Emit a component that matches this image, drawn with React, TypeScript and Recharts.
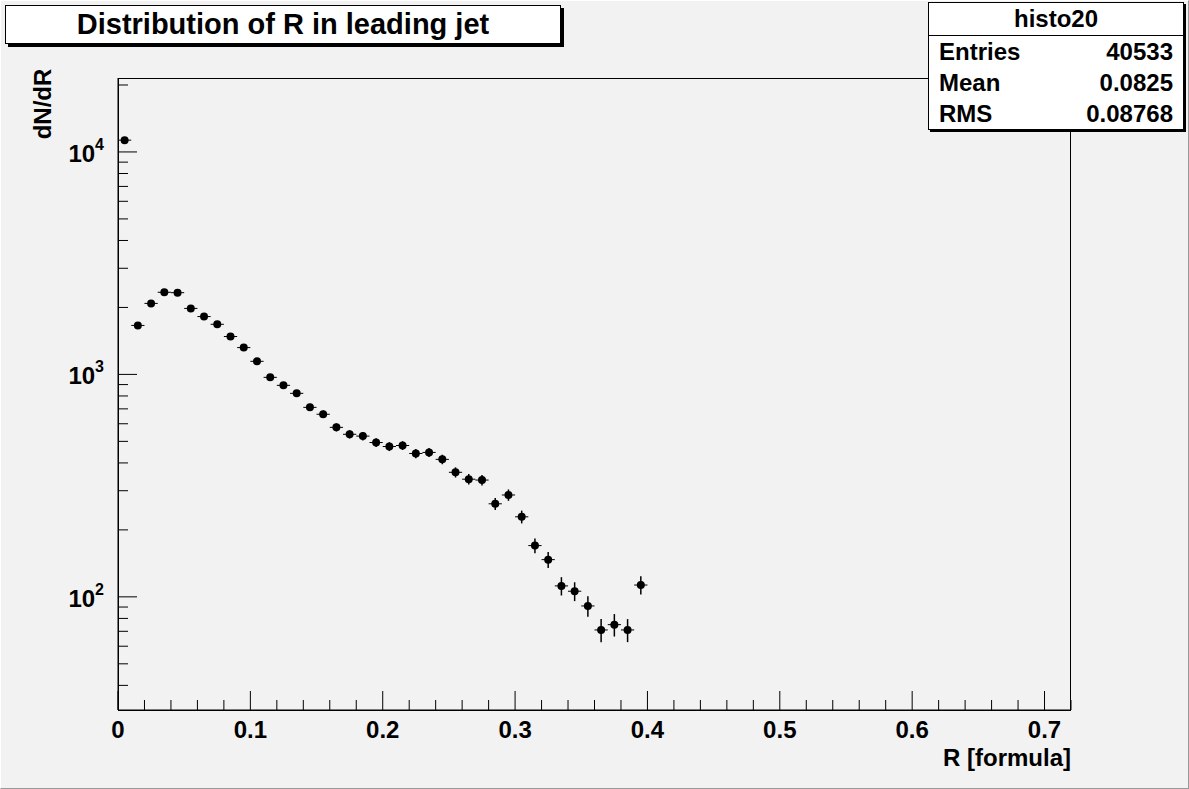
import React from 'react';
import { ScatterChart, Scatter, XAxis, YAxis, ErrorBar } from 'recharts';

const binCenters = [
  0.005, 0.015, 0.025, 0.035, 0.045, 0.055, 0.065, 0.075, 0.085, 0.095,
  0.105, 0.115, 0.125, 0.135, 0.145, 0.155, 0.165, 0.175, 0.185, 0.195,
  0.205, 0.215, 0.225, 0.235, 0.245, 0.255, 0.265, 0.275, 0.285, 0.295,
  0.305, 0.315, 0.325, 0.335, 0.345, 0.355, 0.365, 0.375, 0.385, 0.395,
];
const counts = [
  11300, 1660, 2085, 2340, 2330, 1980, 1820, 1680, 1480, 1320,
  1145, 970, 893, 822, 711, 662, 578, 538, 528, 494,
  474, 479, 441, 446, 415, 363, 338, 335, 262, 287,
  229, 170, 147, 112, 106, 91, 71, 75, 71, 113,
];
const xTicks = Array.from({ length: 37 }, (_, i) => Math.round(i * 2) / 100);
const xLabels = [0, 0.1, 0.2, 0.3, 0.4, 0.5, 0.6, 0.7];
const yTicks = [
  40, 50, 60, 70, 80, 90, 100, 200, 300, 400, 500, 600, 700, 800, 900,
  1000, 2000, 3000, 4000, 5000, 6000, 7000, 8000, 9000, 10000, 20000,
];
const stats = [
  ['Entries', '40533'],
  ['Mean', '0.0825'],
  ['RMS', '0.08768'],
];

const data = binCenters.map((x, i) => ({ x, y: counts[i], ex: 0.005, ey: Math.sqrt(counts[i]) }));

const FONT = '"Liberation Sans", Arial, sans-serif';

const XTick = (props: any) => {
  const { x, y, payload } = props;
  const v = payload.value;
  const major = xLabels.some((m) => Math.abs(m - v) < 1e-6);
  return (
    <g>
      <line x1={x} x2={x} y1={y} y2={y - (major ? 19 : 10)} stroke="#000" />
      {major && (
        <text x={x} y={y + 28} textAnchor="middle" fontFamily={FONT} fontWeight="bold" fontSize={24}>
          {v === 0 ? '0' : v.toFixed(1)}
        </text>
      )}
    </g>
  );
};

const YTick = (props: any) => {
  const { x, y, payload } = props;
  const v = payload.value;
  const exp = Math.log10(v);
  const major = Math.abs(exp - Math.round(exp)) < 1e-6;
  return (
    <g>
      <line x1={x} x2={x + (major ? 19 : 10)} y1={y} y2={y} stroke="#000" />
      {major && (
        <text x={x - 14} y={y + 10} textAnchor="end" fontFamily={FONT} fontWeight="bold" fontSize={24}>
          10<tspan dy={-12} fontSize={16}>{Math.round(exp)}</tspan>
        </text>
      )}
    </g>
  );
};

const Dot = (props: any) => <circle cx={props.cx} cy={props.cy} r={4} fill="#000" />;

export default function App() {
  return (
    <div style={{ position: 'absolute', left: 0, top: 0, width: 1189, height: 789, background: '#f2f2f2', fontFamily: FONT, overflow: 'hidden' }}>
      <div style={{ position: 'absolute', left: 0, top: 0, width: 1187, height: 787, borderTop: '1px solid #fff', borderLeft: '1px solid #fff', borderRight: '1px solid #999', borderBottom: '1px solid #999' }} />
      <ScatterChart width={1189} height={789} margin={{ top: 78, left: 0, right: 118, bottom: 0 }}>
        <XAxis type="number" dataKey="x" domain={[0, 0.72]} ticks={xTicks} interval={0} tick={<XTick />} tickLine={false} tickSize={0} tickMargin={0} height={79} axisLine={{ stroke: '#000' }} allowDataOverflow />
        <YAxis type="number" dataKey="y" scale="log" domain={[31, 21500]} ticks={yTicks} interval={0} tick={<YTick />} tickLine={false} tickSize={0} tickMargin={0} width={118} axisLine={{ stroke: '#000' }} allowDataOverflow />
        <Scatter data={data} fill="#000" shape={<Dot />} isAnimationActive={false}>
          <ErrorBar dataKey="ey" direction="y" width={0} stroke="#000" strokeWidth={1.5} />
          <ErrorBar dataKey="ex" direction="x" width={0} stroke="#000" strokeWidth={1} />
        </Scatter>
      </ScatterChart>
      <div style={{ position: 'absolute', left: 118, top: 78, width: 953, height: 633, border: '1px solid #000', boxSizing: 'border-box', pointerEvents: 'none' }} />
      <div style={{ position: 'absolute', left: 8, top: 60, width: 70, height: 70, display: 'flex', alignItems: 'flex-start', justifyContent: 'center' }}>
        <div style={{ transform: 'rotate(-90deg)', transformOrigin: 'center', fontWeight: 'bold', fontSize: 24, whiteSpace: 'nowrap', marginTop: 30 }}>dN/dR</div>
      </div>
      <div style={{ position: 'absolute', right: 118, top: 744, fontWeight: 'bold', fontSize: 24 }}>R [formula]</div>
      <div style={{ position: 'absolute', left: 5, top: 5, width: 556, height: 39, background: '#fff', border: '1px solid #000', boxShadow: '3px 3px 0 #000', boxSizing: 'border-box', fontWeight: 'bold', fontSize: 29, textAlign: 'center', lineHeight: '37px' }}>
        Distribution of R in leading jet
      </div>
      <div style={{ position: 'absolute', left: 928, top: 2, width: 256, height: 128, background: '#fff', border: '1px solid #000', boxShadow: '2px 2px 0 #000', boxSizing: 'border-box', fontWeight: 'bold', fontSize: 24 }}>
        <div style={{ height: 32, borderBottom: '1px solid #000', textAlign: 'center', lineHeight: '32px' }}>histo20</div>
        {stats.map(([k, v]) => (
          <div key={k} style={{ display: 'flex', justifyContent: 'space-between', padding: '0 10px', height: 31, lineHeight: '31px' }}>
            <span>{k}</span>
            <span>{v}</span>
          </div>
        ))}
      </div>
    </div>
  );
}
